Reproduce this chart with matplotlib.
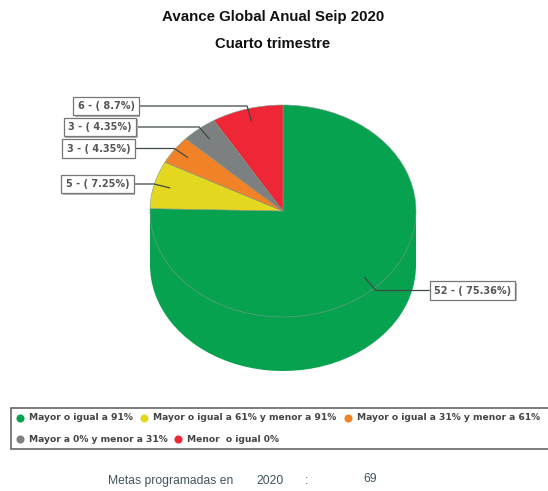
import numpy as np
import matplotlib
matplotlib.use('Agg')
import matplotlib.pyplot as plt
from matplotlib.patches import Rectangle

counts = [52, 5, 3, 3, 6]
labels = ['52 - ( 75.36%)', '5 - ( 7.25%)', '3 - ( 4.35%)', '3 - ( 4.35%)', '6 - ( 8.7%)']
colors = ['#07a24f', '#e3d81f', '#f28227', '#7d8080', '#ee2636']
legend_names = ['Mayor o igual a 91%', 'Mayor o igual a 61% y menor a 91%',
                'Mayor o igual a 31% y menor a 61%', 'Mayor a 0% y menor a 31%', 'Menor  o igual 0%']

W, H = 548, 491
cx, cy, rx, ry = 283, 211, 133, 106
depth = 54
# label box centre x, y and the x where the leader meets the box
label_pos = [(472.5, 290.5, 429), (97.5, 184, 134), (98.5, 148.5, 135), (100, 127, 137), (106, 106, 139)]
legend_pos = [(20, 418), (144, 418), (348, 418), (20, 439), (178, 439)]

fig = plt.figure(figsize=(W / 100, H / 100), dpi=100)

# pie axes: top ellipse plus the extruded side
ax = fig.add_axes([(cx - rx) / W, 1 - (cy + ry + depth) / H, 2 * rx / W, (2 * ry + depth) / H])
d = depth / ry
ax.pie(counts, colors=colors, startangle=90, counterclock=False, center=(0, -d), radius=1)
ax.fill_between([-1, 1], -d, 0, color=colors[0], lw=0)
ax.plot([1, 1], [-d, 0], color='#a0a0a0', lw=0.5)
ax.pie(counts, colors=colors, startangle=90, counterclock=False, radius=1,
       wedgeprops=dict(edgecolor='#7f9a8a', linewidth=0.4))
ax.set_aspect('auto')
ax.set_xlim(-1, 1)
ax.set_ylim(-1 - d, 1)
ax.axis('off')

# overlay in pixel coordinates for the labels and texts
ov = fig.add_axes([0, 0, 1, 1])
ov.set_xlim(0, W)
ov.set_ylim(H, 0)
ov.axis('off')
ov.patch.set_alpha(0)

fracs = np.array(counts) / sum(counts)
starts = np.concatenate([[0], np.cumsum(fracs)[:-1]])
for frac, start, lab, (tx, ty, ex) in zip(fracs, starts, labels, label_pos):
    a = 2 * np.pi * (start + frac / 2)
    px = [cx + 0.88 * rx * np.sin(a), cx + rx * np.sin(a), ex]
    py = [cy - 0.88 * ry * np.cos(a), cy - ry * np.cos(a), ty]
    py[1] = ty if abs(py[1] - ty) < 6 else py[1]
    ov.plot(px, py, color='#3d4a48', lw=0.9, solid_joinstyle='miter')
    ov.text(tx + 1.5, ty + 1.5, lab, fontsize=7, fontweight='bold', ha='center', va='center', color='none',
            bbox=dict(boxstyle='square,pad=0.45', fc='#b5b5b5', ec='none'))
    ov.text(tx, ty, lab, fontsize=7, fontweight='bold', ha='center', va='center', color='#555555',
            bbox=dict(boxstyle='square,pad=0.45', fc='white', ec='#777777', lw=0.9))

# legend
ov.add_patch(Rectangle((11, 408), 560, 40.5, fc='white', ec='#666666', lw=1.2, clip_on=True))
for name, col, (lx, ly) in zip(legend_names, colors, legend_pos):
    ov.scatter([lx], [ly], s=34, color=col, lw=0)
    ov.text(lx + 9, ly, name, fontsize=6.6, fontweight='bold', color='#444444', va='center')

ov.text(273, 17, 'Avance Global Anual Seip 2020', fontsize=10.8, fontweight='bold',
        family='Liberation Sans', ha='center', va='center', color='#111111')
ov.text(273, 44, 'Cuarto trimestre', fontsize=10.7, fontweight='bold',
        family='Liberation Sans', ha='center', va='center', color='#111111')

for s, x, y in [('Metas programadas en', 108, 481), ('2020', 256, 481), (':', 305, 481), ('69', 363, 479)]:
    ov.text(x, y, s, fontsize=8.7, family='Liberation Sans', va='center', color='#3f5560')

fig.savefig('out.png', dpi=100)
